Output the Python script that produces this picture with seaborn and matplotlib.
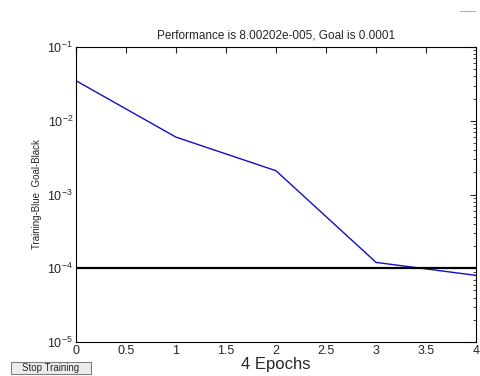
import matplotlib
matplotlib.use("Agg")
import matplotlib.pyplot as plt
from matplotlib.patches import FancyBboxPatch
import seaborn as sns
import pandas as pd
import numpy as np

epochs = [0, 1, 2, 3, 4]
performance = [0.035, 0.006, 0.0021, 0.00012, 0.0000800202]
goal = 0.0001
xticks = [0, 0.5, 1, 1.5, 2, 2.5, 3, 3.5, 4]
xticklabels = ["0", "0.5", "1", "1.5", "2", "2.5", "3", "3.5", "4"]

sns.set_style("white")
plt.rcParams['font.family'] = ['Liberation Sans', 'DejaVu Sans']

fig = plt.figure(figsize=(4.8, 3.76), dpi=100)
ax = fig.add_axes([0.158, 0.0904, 0.834, 0.7846])

df = pd.DataFrame({"epoch": epochs, "perf": performance})
sns.lineplot(data=df, x="epoch", y="perf", ax=ax, color="#1010c0", linewidth=1.0)
ax.axhline(goal, color="black", linewidth=1.6)

ax.set_yscale("log")
ax.set_ylim(1e-5, 1e-1)
ax.set_xlim(0, 4)
ax.set_xticks(xticks)
ax.set_xticklabels(xticklabels)
ax.tick_params(axis="both", which="both", direction="in", top=True, right=True,
               labelsize=9, length=4, pad=2)
ax.tick_params(axis="y", which="minor", length=2)
for s in ax.spines.values():
    s.set_color("black")
    s.set_linewidth(0.8)

ax.set_title("Performance is 8.00202e-005, Goal is 0.0001", fontsize=8.5, pad=6)
ax.set_xlabel("4 Epochs", fontsize=12, labelpad=0)
ax.set_ylabel("Training-Blue  Goal-Black", fontsize=7, labelpad=4)

# Stop Training button
btn = FancyBboxPatch((0.022, 0.005), 0.168, 0.033, boxstyle="square,pad=0",
                     transform=fig.transFigure, facecolor="#ececec",
                     edgecolor="#808080", linewidth=0.8)
fig.patches.append(btn)
fig.text(0.106, 0.021, "Stop Training", fontsize=7, ha="center", va="center")

# small mark top right
fig.add_artist(plt.Line2D([0.958, 0.99], [0.972, 0.972], transform=fig.transFigure,
                          color="#b0b0b0", linewidth=0.8))

fig.savefig("out.png", dpi=100)
